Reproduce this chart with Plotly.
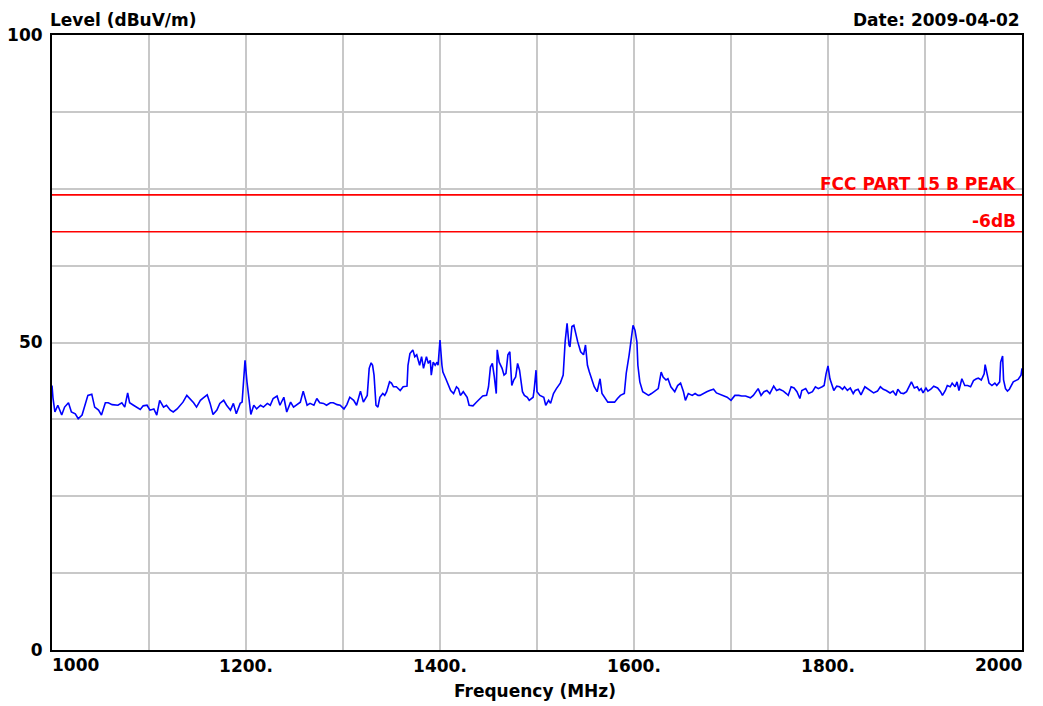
import plotly.graph_objects as go

# ---- data ----
freq_mhz = [
    1000, 1001, 1003, 1006, 1010, 1013, 1017, 1020, 1024, 1027, 1031, 1034, 1037, 1041, 1044, 1048,
    1051, 1055, 1058, 1062, 1065, 1068, 1072, 1075, 1078, 1080, 1084, 1087, 1091, 1094, 1098, 1101,
    1105, 1108, 1111, 1115, 1118, 1122, 1125, 1129, 1132, 1135, 1139, 1142, 1146, 1149, 1153, 1156,
    1160, 1163, 1166, 1170, 1173, 1177, 1180, 1184, 1187, 1190, 1194, 1196, 1199, 1201, 1203, 1205,
    1208, 1211, 1215, 1218, 1222, 1225, 1228, 1232, 1235, 1239, 1242, 1246, 1249, 1252, 1256, 1259,
    1263, 1266, 1270, 1273, 1276, 1280, 1283, 1287, 1290, 1294, 1297, 1301, 1304, 1307, 1311, 1314,
    1318, 1321, 1325, 1327, 1329, 1330.5, 1332, 1334, 1336, 1338, 1341, 1343, 1345, 1348, 1350, 1352,
    1355, 1359, 1362, 1366, 1367, 1369, 1372, 1374, 1376, 1379, 1381, 1383, 1386, 1388, 1390, 1391,
    1393, 1395, 1397, 1398, 1400, 1402, 1403, 1406, 1409, 1411, 1414, 1417, 1419, 1421, 1424, 1428,
    1430, 1434, 1437, 1441, 1444, 1448, 1450, 1452, 1454, 1456, 1458, 1459, 1461, 1464, 1466, 1468,
    1470, 1472, 1474, 1476, 1478, 1480, 1482, 1485, 1487, 1490, 1492, 1496, 1497, 1499, 1500, 1503,
    1507, 1509, 1512, 1514, 1517, 1520, 1522, 1524, 1527, 1529, 1531, 1533, 1534, 1536, 1538, 1540,
    1542, 1545, 1548, 1550, 1552, 1554, 1557, 1559, 1562, 1565, 1567, 1570, 1573, 1577, 1580, 1583,
    1586, 1590, 1592, 1595, 1597, 1599, 1601, 1603, 1604, 1606, 1609, 1612, 1615, 1618, 1622, 1625,
    1628, 1630, 1633, 1635, 1638, 1642, 1645, 1648, 1651, 1653, 1656, 1660, 1663, 1666, 1668, 1671,
    1675, 1678, 1682, 1685, 1689, 1692, 1696, 1700, 1704, 1708, 1711, 1715, 1720, 1723, 1726, 1728,
    1731, 1734, 1737, 1740, 1744, 1747, 1750, 1754, 1757, 1759, 1762, 1765, 1768, 1771, 1773, 1777,
    1780, 1784, 1787, 1790, 1794, 1796, 1798, 1800, 1802, 1804, 1806, 1809, 1812, 1815, 1817, 1820,
    1823, 1826, 1828, 1831, 1834, 1838, 1840, 1844, 1847, 1851, 1854, 1857, 1860, 1864, 1867, 1870,
    1872, 1875, 1878, 1881, 1884, 1886, 1889, 1892, 1894, 1896, 1898, 1901, 1903, 1906, 1909, 1913,
    1916, 1918, 1921, 1923, 1926, 1928, 1931, 1933, 1935, 1938, 1941, 1944, 1947, 1950, 1953, 1955,
    1958, 1961, 1962, 1964, 1966, 1969, 1972, 1974, 1977, 1978, 1980, 1981, 1983, 1985, 1987, 1991,
    1994, 1996, 1999, 2000,
]
level_dbuv = [
    43.0, 41.0, 38.7, 39.8, 38.2, 39.5, 40.2, 38.7, 38.4, 37.6, 38.2, 39.8, 41.4, 41.6, 39.5, 39.0,
    38.2, 40.2, 40.2, 39.9, 39.8, 39.8, 40.2, 39.5, 41.8, 40.2, 39.8, 39.5, 39.1, 39.7, 39.8, 39.0,
    39.2, 38.2, 40.6, 39.5, 39.8, 39.0, 38.7, 39.2, 39.8, 40.3, 41.4, 40.9, 40.2, 39.5, 40.6, 41.0,
    41.5, 40.1, 38.3, 39.0, 40.1, 40.6, 39.8, 39.0, 40.1, 38.4, 40.1, 40.3, 47.1, 43.6, 40.9, 38.3,
    39.8, 39.2, 39.8, 39.5, 40.1, 39.8, 40.9, 41.3, 39.8, 41.1, 38.7, 40.3, 39.5, 39.9, 40.3, 42.1,
    39.8, 40.1, 39.8, 40.9, 40.2, 40.1, 39.8, 40.2, 40.2, 39.9, 39.8, 39.2, 39.9, 41.1, 40.6, 39.8,
    42.1, 40.3, 41.4, 45.8, 46.7, 46.3, 44.7, 39.8, 39.5, 41.1, 41.7, 41.4, 42.0, 43.6, 43.4, 42.8,
    42.8, 42.2, 42.8, 42.9, 46.3, 48.2, 48.8, 47.7, 48.0, 46.3, 47.7, 45.8, 47.7, 46.6, 47.1, 44.7,
    46.8, 46.3, 46.8, 46.3, 50.4, 46.3, 45.2, 44.1, 43.0, 42.2, 41.7, 42.8, 42.5, 41.4, 42.0, 41.1,
    39.8, 39.7, 40.2, 40.9, 41.3, 41.4, 42.8, 46.0, 46.6, 44.4, 41.7, 48.8, 46.8, 45.8, 44.7, 45.0,
    48.0, 48.5, 43.0, 43.9, 44.4, 46.6, 45.5, 42.0, 41.4, 41.1, 40.6, 41.1, 42.2, 45.5, 42.0, 41.4,
    41.1, 39.8, 40.6, 40.1, 41.7, 42.5, 43.0, 43.4, 44.7, 50.1, 53.1, 49.6, 49.3, 52.6, 52.8, 51.2,
    50.1, 48.5, 48.0, 49.6, 46.3, 45.2, 43.6, 42.8, 42.0, 44.1, 41.7, 40.9, 40.3, 40.3, 40.3, 40.9,
    41.4, 41.7, 45.0, 48.0, 50.4, 52.8, 52.0, 50.1, 46.3, 43.6, 42.0, 41.7, 41.4, 41.7, 42.1, 42.5,
    45.2, 44.4, 43.9, 44.1, 42.8, 42.0, 43.0, 43.4, 42.0, 40.6, 41.7, 41.4, 41.7, 41.4, 41.4, 41.7,
    42.0, 42.2, 42.4, 41.8, 41.5, 41.4, 41.1, 40.6, 41.4, 41.4, 41.3, 41.3, 41.0, 41.4, 42.2, 42.5,
    41.4, 42.0, 42.2, 41.7, 42.9, 42.2, 42.4, 42.1, 41.7, 41.4, 42.8, 42.6, 42.0, 40.9, 42.2, 42.5,
    41.7, 42.0, 42.8, 42.5, 42.8, 43.0, 44.9, 46.2, 44.1, 43.0, 42.2, 42.9, 42.8, 42.4, 42.8, 42.2,
    42.6, 41.7, 42.2, 42.4, 41.5, 42.8, 42.6, 42.2, 41.8, 42.1, 42.8, 42.4, 42.2, 41.8, 42.1, 41.4,
    42.4, 41.8, 41.7, 42.0, 43.0, 43.6, 42.6, 42.8, 42.2, 42.5, 41.8, 42.6, 42.1, 42.4, 42.9, 42.6,
    42.0, 41.4, 42.2, 43.0, 42.8, 43.4, 42.8, 43.6, 42.2, 44.1, 43.0, 43.0, 42.8, 43.8, 44.1, 44.2,
    43.9, 44.9, 46.4, 44.9, 43.4, 43.0, 43.4, 43.0, 43.6, 46.8, 47.8, 43.9, 42.5, 42.1, 42.4, 43.6,
    43.9, 44.0, 44.7, 45.8,
]

limit_freq = [1000, 2000]
fcc_peak_limit = [74, 74]
minus6_limit = [68, 68]

x_tick_vals = [1000, 1100, 1200, 1300, 1400, 1500, 1600, 1700, 1800, 1900, 2000]
x_tick_text = ["", "", "1200.", "", "1400.", "", "1600.", "", "1800.", "", ""]
y_tick_vals = [0, 12.5, 25, 37.5, 50, 62.5, 75, 87.5, 100]
y_tick_text = ["0", "", "", "", "50", "", "", "", "100"]

FONT = "DejaVu Sans"
bold = dict(family=FONT, size=17, color="black", weight="bold")
red_bold = dict(family=FONT, size=17, color="#ff0000", weight="bold")

fig = go.Figure()
fig.add_trace(go.Scatter(x=limit_freq, y=fcc_peak_limit, mode="lines",
                         line=dict(color="#ff0000", width=1.6), hoverinfo="skip"))
fig.add_trace(go.Scatter(x=limit_freq, y=minus6_limit, mode="lines",
                         line=dict(color="#ff0000", width=1.6), hoverinfo="skip"))
fig.add_trace(go.Scatter(x=freq_mhz, y=level_dbuv, mode="lines",
                         line=dict(color="#0000ff", width=1.6)))

fig.update_layout(
    width=1043, height=706,
    margin=dict(l=52, r=21, t=35, b=56),
    paper_bgcolor="white", plot_bgcolor="white",
    showlegend=False,
    font=bold,
)
fig.update_xaxes(range=[1000, 2000], tickvals=x_tick_vals, ticktext=x_tick_text,
                 showgrid=True, gridcolor="#c8c8c8", gridwidth=2,
                 showline=True, linecolor="black", linewidth=2, mirror=True,
                 zeroline=False, ticks="", tickfont=bold, automargin=False)
fig.update_yaxes(range=[0, 100], tickvals=y_tick_vals, ticktext=y_tick_text,
                 showgrid=True, gridcolor="#c8c8c8", gridwidth=2,
                 showline=True, linecolor="black", linewidth=2, mirror=True,
                 zeroline=False, ticks="", tickfont=bold, ticklabelstandoff=4,
                 automargin=False)

ann = [
    dict(text="Level (dBuV/m)", x=0, xref="paper", xanchor="left", xshift=-4,
         y=1, yref="paper", yanchor="bottom", yshift=3),
    dict(text="Date: 2009-04-02", x=1, xref="paper", xanchor="right", xshift=0,
         y=1, yref="paper", yanchor="bottom", yshift=3),
    dict(text="Frequency (MHz)", x=0.5, xref="paper", xanchor="center", xshift=-2,
         y=0, yref="paper", yanchor="top", yshift=-29),
    dict(text="1000", x=1000, xref="x", xanchor="left", xshift=-2,
         y=0, yref="paper", yanchor="top", yshift=-3),
    dict(text="2000", x=2000, xref="x", xanchor="right", xshift=2,
         y=0, yref="paper", yanchor="top", yshift=-3),
    dict(text="FCC PART 15 B PEAK", x=1, xref="paper", xanchor="right", xshift=-4,
         y=fcc_peak_limit[0], yref="y", yanchor="bottom", yshift=-1, font=red_bold),
    dict(text="-6dB", x=1, xref="paper", xanchor="right", xshift=-4,
         y=minus6_limit[0], yref="y", yanchor="bottom", yshift=-1, font=red_bold),
]
for a in ann:
    a.setdefault("font", bold)
    a["showarrow"] = False
fig.update_layout(annotations=ann)

fig.write_html("out.html")
